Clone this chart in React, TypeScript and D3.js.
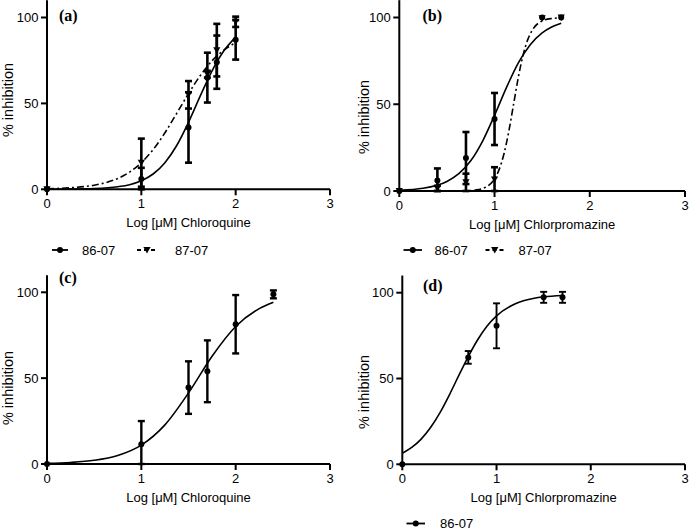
import React from 'react';
import * as d3 from 'd3';

// ---------- tick labels ----------
const xTicks = [0, 1, 2, 3];
const yTicks = [0, 50, 100];
const seriesNames = ['86-07', '87-07'];

// ---------- Panel (a): Chloroquine, 86-07 & 87-07 ----------
const aDoses = [0, 1, 1.5, 1.7, 1.8, 2];
const a8607Mean = [0, 6, 36, 65, 74, 87];
const a8607Sd = [0, 6.5, 20.5, 14.5, 15.5, 11.5];
const a8707Mean = [0, 15.5, 55, 67, 81, 97.5];
const a8707Sd = [0, 14, 8, 2, 15.3, 3];
const aFitX = [0, 0.25, 0.5, 0.75, 0.875, 1, 1.125, 1.25, 1.375, 1.5, 1.625, 1.75, 1.875, 2];
const aFit8607 = [0.04, 0.12, 0.43, 1.5, 2.7, 5, 8.9, 15.5, 25.5, 39, 54.4, 69, 80.6, 88.6];
const aFit8707 = [0.33, 0.9, 2.4, 6.3, 10, 15.5, 23.1, 32.9, 44.2, 55.7, 66.2, 74.8, 81, 85.4];

// ---------- Panel (b): Chlorpromazine, 86-07 & 87-07 ----------
const bDoses = [0, 0.4, 0.7, 1, 1.5, 1.7];
const b8607Mean = [0, 6, 19, 41.5, 100, 100];
const b8607Sd = [0, 7, 15, 15, 0, 0];
const b8707Mean = [0, 1.5, 5, 6.7, 99.5, 100];
const b8707Sd = [0, 1.5, 5, 7, 0, 0];
const bFit8607X = [0, 0.25, 0.5, 0.625, 0.75, 0.875, 1, 1.125, 1.25, 1.375, 1.5, 1.6, 1.7];
const bFit8607 = [0.43, 1.56, 5.5, 10, 17.4, 28.8, 43.6, 59.6, 73.8, 84.3, 91.1, 94.5, 96.7];
const bFit8707X = [0, 0.5, 0.7, 0.8, 0.9, 1, 1.05, 1.1, 1.15, 1.2, 1.25, 1.3, 1.35, 1.4, 1.5, 1.6, 1.7];
const bFit8707 = [0, 0.01, 0.16, 0.57, 2, 7, 12.6, 21.6, 34.4, 50, 65.6, 78.4, 87.4, 93, 98, 99.4, 99.8];

// ---------- Panel (c): Chloroquine, 86-07 ----------
const cDoses = [0, 1, 1.5, 1.7, 2, 2.4];
const c8607Mean = [0, 11.5, 44.5, 54, 81.4, 98.8];
const c8607Sd = [0, 13.5, 15.3, 18, 17, 2.3];
const cFitX = [0, 0.25, 0.5, 0.75, 1, 1.25, 1.5, 1.75, 2, 2.25, 2.4];
const cFit8607 = [0.38, 0.9, 2.14, 4.95, 11, 22.8, 41.4, 62.8, 80.1, 90.5, 94.2];

// ---------- Panel (d): Chlorpromazine, 86-07 ----------
const dDoses = [0, 0.7, 1, 1.5, 1.7];
const d8607Mean = [0, 62.3, 80.7, 97.3, 97.3];
const d8607Sd = [0, 3.7, 13.1, 3.2, 3.2];
const dFitX = [0, 0.1, 0.2, 0.3, 0.4, 0.5, 0.6, 0.7, 0.8, 0.9, 1, 1.2, 1.4, 1.5, 1.7];
const dFit8607 = [6.4, 9.8, 14.7, 21.4, 30.1, 40.5, 51.8, 62.8, 72.6, 80.6, 86.5, 93.6, 96.8, 97.6, 98.4];

const FONT = "'Liberation Sans', Arial, sans-serif";
const SERIF = "'Liberation Serif', 'Times New Roman', serif";

type Series = {
  doses: number[];
  mean: number[];
  sd: number[];
  fitX: number[];
  fitY: number[];
  marker: 'circle' | 'triangle';
  dashed: boolean;
};

type Layout = {
  x0: number; x3: number; y0: number; y100: number;
  tag: string; tagX: number; tagY: number;
  yLabelX: number; yLabelY: number;
  errW: number;
  legend?: { y: number; items: { x1: number; x2: number; tx: number; name: string; marker: 'circle' | 'triangle'; dashed: boolean }[] };
};

const triPath = 'M-3.6,-3 L3.6,-3 L0,3.4 Z';

function Marker({ kind, cx, cy }: { kind: 'circle' | 'triangle'; cx: number; cy: number }) {
  if (kind === 'circle') return <circle cx={cx} cy={cy} r={3} fill="#000" />;
  return <path d={triPath} transform={`translate(${cx},${cy})`} fill="#000" />;
}

function Panel({ layout, xTitle, series }: { layout: Layout; xTitle: string; series: Series[] }) {
  const x = d3.scaleLinear().domain([0, 3]).range([layout.x0, layout.x3]);
  const y = d3.scaleLinear().domain([0, 100]).range([layout.y0, layout.y100]);
  const line = d3
    .line<[number, number]>()
    .x((d) => x(d[0]))
    .y((d) => y(d[1]))
    .curve(d3.curveMonotoneX);
  const capHalf = 3.5;
  return (
    <g>
      {/* axes */}
      <line x1={x(0)} x2={x(3)} y1={y(0)} y2={y(0)} stroke="#000" strokeWidth={2} />
      <line x1={x(0)} x2={x(0)} y1={y(110)} y2={y(0)} stroke="#000" strokeWidth={2} />
      {xTicks.map((t) => (
        <g key={'xt' + t}>
          <line x1={x(t)} x2={x(t)} y1={y(0)} y2={y(0) + 6} stroke="#000" strokeWidth={2} />
          <text x={x(t)} y={y(0) + 19} textAnchor="middle" fontFamily={FONT} fontSize={13}>
            {t}
          </text>
        </g>
      ))}
      {yTicks.map((t) => (
        <g key={'yt' + t}>
          <line x1={x(0) - 6} x2={x(0)} y1={y(t)} y2={y(t)} stroke="#000" strokeWidth={2} />
          <text x={x(0) - 8.5} y={y(t) + 4.6} textAnchor="end" fontFamily={FONT} fontSize={13}>
            {t}
          </text>
        </g>
      ))}
      <text x={(x(0) + x(3)) / 2} y={y(0) + 38} textAnchor="middle" fontFamily={FONT} fontSize={13}>
        {xTitle}
      </text>
      <text
        transform={`translate(${layout.yLabelX},${layout.yLabelY}) rotate(-90)`}
        textAnchor="middle"
        fontFamily={FONT}
        fontSize={14.5}
      >
        % inhibition
      </text>
      <text x={layout.tagX} y={layout.tagY} fontFamily={SERIF} fontWeight="bold" fontSize={16}>
        {layout.tag}
      </text>

      {/* fitted curves */}
      {series.map((s, i) => (
        <path
          key={'fit' + i}
          d={line(s.fitX.map((v, j) => [v, s.fitY[j]] as [number, number])) || ''}
          fill="none"
          stroke="#000"
          strokeWidth={1.6}
          strokeDasharray={s.dashed ? '7,3,2,3' : undefined}
        />
      ))}

      {/* error bars */}
      {series.map((s, i) =>
        s.doses.map((dv, j) => {
          if (!s.sd[j]) return null;
          const lo = Math.max(0, s.mean[j] - s.sd[j]);
          const hi = s.mean[j] + s.sd[j];
          const cx = x(dv);
          return (
            <g key={`eb${i}-${j}`} stroke="#000" strokeWidth={layout.errW}>
              <line x1={cx} x2={cx} y1={y(lo)} y2={y(hi)} />
              <line x1={cx - capHalf} x2={cx + capHalf} y1={y(hi)} y2={y(hi)} />
              <line x1={cx - capHalf} x2={cx + capHalf} y1={y(lo)} y2={y(lo)} />
            </g>
          );
        })
      )}

      {/* markers */}
      {series.map((s, i) =>
        s.doses.map((dv, j) => <Marker key={`m${i}-${j}`} kind={s.marker} cx={x(dv)} cy={y(s.mean[j])} />)
      )}

      {/* legend */}
      {layout.legend &&
        layout.legend.items.map((it, k) => (
          <g key={'lg' + k}>
            <line
              x1={it.x1}
              x2={it.x2}
              y1={layout.legend!.y}
              y2={layout.legend!.y}
              stroke="#000"
              strokeWidth={1.8}
              strokeDasharray={it.dashed ? '4,3' : undefined}
            />
            <Marker kind={it.marker} cx={(it.x1 + it.x2) / 2} cy={layout.legend!.y} />
            <text x={it.tx} y={layout.legend!.y + 4.6} fontFamily={FONT} fontSize={13}>
              {it.name}
            </text>
          </g>
        ))}
    </g>
  );
}

const layoutA: Layout = {
  x0: 47, x3: 330, y0: 189.3, y100: 17.5,
  tag: '(a)', tagX: 59, tagY: 20.5,
  yLabelX: 12.5, yLabelY: 100,
  errW: 2.6,
  legend: {
    y: 250,
    items: [
      { x1: 52, x2: 68, tx: 82, name: seriesNames[0], marker: 'circle', dashed: false },
      { x1: 137, x2: 157, tx: 175, name: seriesNames[1], marker: 'triangle', dashed: true },
    ],
  },
};
const layoutB: Layout = {
  x0: 399.3, x3: 685, y0: 191, y100: 17.5,
  tag: '(b)', tagX: 422.5, tagY: 20.5,
  yLabelX: 369, yLabelY: 117,
  errW: 2.6,
  legend: {
    y: 250,
    items: [
      { x1: 403.5, x2: 422, tx: 434.5, name: seriesNames[0], marker: 'circle', dashed: false },
      { x1: 485.5, x2: 504, tx: 518.5, name: seriesNames[1], marker: 'triangle', dashed: true },
    ],
  },
};
const layoutC: Layout = {
  x0: 47, x3: 330, y0: 464, y100: 292.3,
  tag: '(c)', tagX: 59, tagY: 282.7,
  yLabelX: 12.5, yLabelY: 388,
  errW: 2.4,
};
const layoutD: Layout = {
  x0: 402.3, x3: 685, y0: 464.3, y100: 292.7,
  tag: '(d)', tagX: 423, tagY: 290.7,
  yLabelX: 369, yLabelY: 392,
  errW: 1.9,
  legend: {
    y: 523.5,
    items: [{ x1: 406.5, x2: 425, tx: 440, name: seriesNames[0], marker: 'circle', dashed: false }],
  },
};

export default function App() {
  const seriesA: Series[] = [
    { doses: aDoses, mean: a8607Mean, sd: a8607Sd, fitX: aFitX, fitY: aFit8607, marker: 'circle', dashed: false },
    { doses: aDoses, mean: a8707Mean, sd: a8707Sd, fitX: aFitX, fitY: aFit8707, marker: 'triangle', dashed: true },
  ];
  const seriesB: Series[] = [
    { doses: bDoses, mean: b8607Mean, sd: b8607Sd, fitX: bFit8607X, fitY: bFit8607, marker: 'circle', dashed: false },
    { doses: bDoses, mean: b8707Mean, sd: b8707Sd, fitX: bFit8707X, fitY: bFit8707, marker: 'triangle', dashed: true },
  ];
  const seriesC: Series[] = [
    { doses: cDoses, mean: c8607Mean, sd: c8607Sd, fitX: cFitX, fitY: cFit8607, marker: 'circle', dashed: false },
  ];
  const seriesD: Series[] = [
    { doses: dDoses, mean: d8607Mean, sd: d8607Sd, fitX: dFitX, fitY: dFit8607, marker: 'circle', dashed: false },
  ];
  return (
    <svg
      width={689}
      height={531}
      viewBox="0 0 689 531"
      style={{ position: 'absolute', left: 0, top: 0, background: '#fff' }}
    >
      <rect width={689} height={531} fill="#fff" />
      <Panel layout={layoutA} xTitle="Log [μM] Chloroquine" series={seriesA} />
      <Panel layout={layoutB} xTitle="Log [μM] Chlorpromazine" series={seriesB} />
      <Panel layout={layoutC} xTitle="Log [μM] Chloroquine" series={seriesC} />
      <Panel layout={layoutD} xTitle="Log [μM] Chlorpromazine" series={seriesD} />
    </svg>
  );
}
